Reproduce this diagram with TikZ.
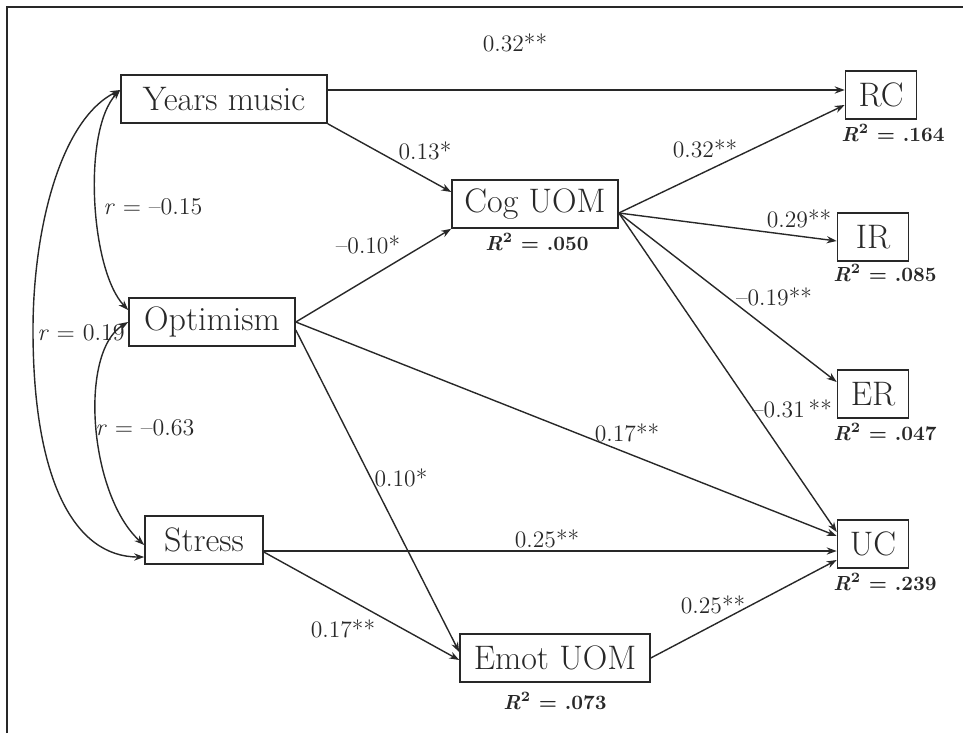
\documentclass[tikz,border=0pt]{standalone}
\usetikzlibrary{arrows.meta}
\definecolor{ink}{RGB}{40,40,40}
\begin{document}
\begin{tikzpicture}[x=0.5pt,y=-0.5pt,
  vbox/.style={draw=ink, line width=0.8pt, inner sep=0pt, minimum height=24pt, font=\fontsize{17}{20}\selectfont, text=ink},
  arr/.style={draw=ink, line width=0.7pt, -{Stealth[length=5pt,width=3.6pt]}},
  corr/.style={draw=ink, line width=0.7pt, {Stealth[length=5pt,width=3.6pt]}-{Stealth[length=5pt,width=3.6pt]}},
  lab/.style={font=\fontsize{11.8}{13}\selectfont, text=ink, inner sep=0pt},
  rsq/.style={font=\fontsize{10.2}{12}\selectfont\bfseries, text=ink, inner sep=0pt},
  rlab/.style={font=\fontsize{12}{14}\selectfont, text=ink, inner sep=0pt}]
\useasboundingbox (0,0) rectangle (963,733);
\draw[ink, line width=1.4pt] (7,733) -- (7,7) -- (963,7);

% boxes
\node[vbox, minimum width=103pt] (ym)  at (224,99)  {Years music};
\node[vbox, minimum width=83pt]  (opt) at (212,322) {Optimism};
\node[vbox, minimum width=59pt]  (str) at (204,540) {Stress};
\node[vbox, minimum width=83pt]  (cog) at (535,204) {Cog UOM};
\node[vbox, minimum width=95pt]  (emo) at (555,658) {Emot UOM};
\node[vbox, minimum width=35.5pt] (rc) at (881,95)  {RC};
\node[vbox, minimum width=35.5pt] (ir) at (873,237) {IR};
\node[vbox, minimum width=35.5pt] (er) at (873,394) {ER};
\node[vbox, minimum width=35.5pt] (uc) at (873,544) {UC};

% R^2
\node[rsq] (cogr) at (537,242) {\textit{R}\textsuperscript{2} = .050};
\node[rsq] (emor) at (555,701) {\textit{R}\textsuperscript{2} = .073};
\node[rsq] (rcr)  at (893,133) {\textit{R}\textsuperscript{2} = .164};
\node[rsq] (irr)  at (885,273) {\textit{R}\textsuperscript{2} = .085};
\node[rsq] (err)  at (885,432) {\textit{R}\textsuperscript{2} = .047};
\node[rsq] (ucr)  at (885,582) {\textit{R}\textsuperscript{2} = .239};

% paths
\draw[arr] ([yshift=4.5pt]ym.east) -- ([yshift=4.5pt]ym.east -| rc.west);
\draw[arr] (ym.south east) -- ([yshift=6pt]cog.west);
\draw[arr] (opt.east) -- (cog.south west);
\draw[arr] (opt.east) -- ([yshift=4pt]uc.west);
\draw[arr] ([yshift=-4pt]opt.east) -- ([yshift=3pt]emo.west);
\draw[arr] ([yshift=-5.5pt]str.east) -- ([yshift=-5.5pt]str.east -| uc.west);
\draw[arr] ([yshift=-6pt]str.east) -- ([yshift=-1pt]emo.west);
\draw[arr] (emo.east) -- ([yshift=-8pt]uc.west);
\draw[arr] ([yshift=-4.5pt]cog.east) -- ([yshift=-5pt]rc.west);
\draw[arr] ([yshift=-4.5pt]cog.east) -- ([yshift=-2pt]ir.west);
\draw[arr] ([yshift=-4.5pt]cog.east) -- ([yshift=6pt]er.west);
\draw[arr] ([yshift=-4.5pt]cog.east) -- ([yshift=6pt]uc.west);

% correlations
\coordinate (bend) at (33,330);
\draw[corr] ([yshift=4.5pt]ym.west) .. controls +(-38,40) and +(-38,-40) .. ([yshift=6pt]opt.west);
\draw[corr] (opt.west) .. controls +(-50,30) and +(-55,-50) .. ([yshift=-2.5pt]str.west);
\draw[corr] ([yshift=4.5pt]ym.west) .. controls +(-60,30) and +(0,-100) .. (bend)
   .. controls +(0,150) and +(-70,0) .. ([yshift=-8.5pt]str.west);

% labels
\node[lab] (l1)  at (515,43)  {0.32**};
\node[lab] (l2)  at (425,151) {0.13*};
\node[lab] (l3)  at (368,245) {--0.10*};
\node[lab] (l4)  at (401,478) {0.10*};
\node[lab] (l5)  at (627,433) {0.17**};
\node[lab] (l6)  at (547,539) {0.25**};
\node[lab] (l7)  at (343,629) {0.17**};
\node[lab] (l8)  at (713,605) {0.25**};
\node[lab] (l9)  at (705,149) {0.32**};
\node[lab] (l10) at (799,219) {0.29**};
\node[lab] (l11) at (774,297) {--0.19**};
\node[lab] (l12) at (792,409) {--0.31\,**};
\node[rlab] (c1) at (153,207) {\textit{r} = --0.15};
\node[rlab] (c2) at (81,333)  {\textit{r} = 0.19};
\node[rlab] (c3) at (145,428) {\textit{r} = --0.63};
\end{tikzpicture}
\end{document}
